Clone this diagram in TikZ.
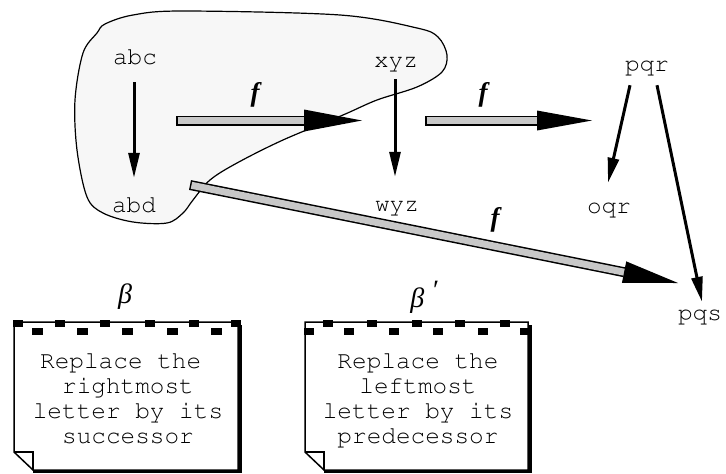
\documentclass[tikz,border=0pt]{standalone}
\usepackage[T1]{fontenc}
\usepackage{fontspec}
\setmainfont{Liberation Serif}
\newcommand\courierfont{\fontencoding{T1}\fontfamily{pcr}\selectfont}
\usetikzlibrary{arrows.meta,calc}
\definecolor{shaftgray}{RGB}{200,200,200}
\definecolor{blobfill}{RGB}{247,247,247}
\newcommand\fatarr[4]{%
  \coordinate (fa-b) at ($(#2)!#3!(#1)$);
  \draw[line width=10pt] (#1) -- (fa-b);
  \draw[line width=7pt, shaftgray] ($(#1)!1.5pt!(#2)$) -- ($(fa-b)!-0.5pt!(#1)$);
  \fill ($(fa-b)!#4!90:(#2)$) -- (#2) -- ($(fa-b)!#4!-90:(#2)$) -- cycle;
}
\begin{document}
\begin{tikzpicture}[x=1pt,y=-1pt,
  lbl/.style={font=\courierfont\fontsize{24.4}{26}\selectfont, inner sep=0pt, anchor=base, text height=16pt, text depth=5pt},
  notetext/.style={font=\courierfont\fontsize{24.4}{25}\selectfont, inner sep=0pt, align=center},
  thinarr/.style={line width=3pt, -{Triangle[length=25pt,width=11pt]}},
  flab/.style={font=\fontsize{27}{27}\selectfont\bfseries\itshape, inner sep=0pt},
  greek/.style={font=\fontsize{28}{28}\selectfont\itshape, inner sep=0pt},
  notebox/.style={line width=1.5pt, fill=white},
  shadow/.style={line width=3pt}]
\useasboundingbox (0,0) rectangle (726,474);

% blob
\draw[fill=blobfill, line width=1.2pt] plot[smooth cycle, tension=0.55] coordinates {
  (105,24) (133,15) (183,11) (340,15) (417,28) (438,37) (447,55) (442,72)
  (417,87) (377,100) (343,115) (283,140) (237,163) (210,180) (193,200)
  (183,213) (167,223) (133,222) (103,213) (87,197) (77,150) (75,100) (83,53) (97,33)};

% labels
\node[lbl] (abc) at (135,64) {abc};
\node[lbl] (abd) at (134,212) {abd};
\node[lbl] (xyz) at (396,67) {xyz};
\node[lbl] (wyz) at (397,211) {wyz};
\node[lbl] (pqr) at (647,71) {pqr};
\node[lbl] (oqr) at (609,213) {oqr};
\node[lbl] (pqs) at (700,320) {pqs};

% thin arrows
\draw[thinarr] ([xshift=-1pt,yshift=-13pt]abc.south) -- ([yshift=18pt]abd.north);
\draw[thinarr] ([xshift=-1pt,yshift=-7pt]xyz.south) -- ([xshift=-2pt,yshift=18pt]wyz.north);
\draw[thinarr] ([xshift=-17pt,yshift=-9pt]pqr.south) -- ([xshift=-1pt,yshift=14pt]oqr.north);
\draw[thinarr] ([xshift=10pt,yshift=-9pt]pqr.south) -- ([xshift=2pt,yshift=2pt]pqs.north);

% fat arrows
\coordinate (f1s) at (176,120.5);
\coordinate (f1e) at (362,120.5);
\coordinate (f2s) at (425,120.5);
\coordinate (f2e) at (592,120.5);
\coordinate (f3s) at (190,185);
\coordinate (f3e) at (678,283);
\fatarr{f1s}{f1e}{58pt}{11pt}
\fatarr{f2s}{f2e}{55pt}{10pt}
\fatarr{f3s}{f3e}{55pt}{11pt}
\node[flab] (fl1) at (255,95) {f};
\node[flab] (fl2) at (483,95) {f};
\node[flab] (fl3) at (495,220) {f};

% note 1
\node[greek] (b1) at (125,297) {β};
\draw[shadow] (240.5,325) -- (240.5,471.5) -- (33,471.5);
\draw[notebox] (14,322) -- (238,322) -- (238,470) -- (33,470) -- (14,452) -- cycle;
\draw[line width=1.2pt] (14,452) -- (33,452) -- (33,470);
\foreach \x in {13,55,100,145,189,231} \fill (\x,320) rectangle +(10,7);
\foreach \x in {32,77,122,167,211} \fill (\x,327.5) rectangle +(11,7);
\node[notetext] (n1) at (128,400.5) {\strut Replace the\hphantom{x}\\\strut rightmost\\\strut letter by its\\\strut successor};

% note 2
\node[greek] (b2) at (424,297) {β\hspace{7pt}\raisebox{8pt}{′}};
\draw[shadow] (530.5,325) -- (530.5,471.5) -- (324,471.5);
\draw[notebox] (305,322) -- (528,322) -- (528,470) -- (324,470) -- (305,452) -- cycle;
\draw[line width=1.2pt] (305,452) -- (324,452) -- (324,470);
\foreach \x in {323,367,412,455,500} \fill (\x,320) rectangle +(10,7);
\foreach \x in {304,344,389,433,478,520} \fill (\x,327.5) rectangle +(10,7);
\node[notetext] (n2) at (418,400.5) {\strut Replace the\\\strut leftmost\\\strut letter by its\\\strut predecessor};
\end{tikzpicture}
\end{document}
